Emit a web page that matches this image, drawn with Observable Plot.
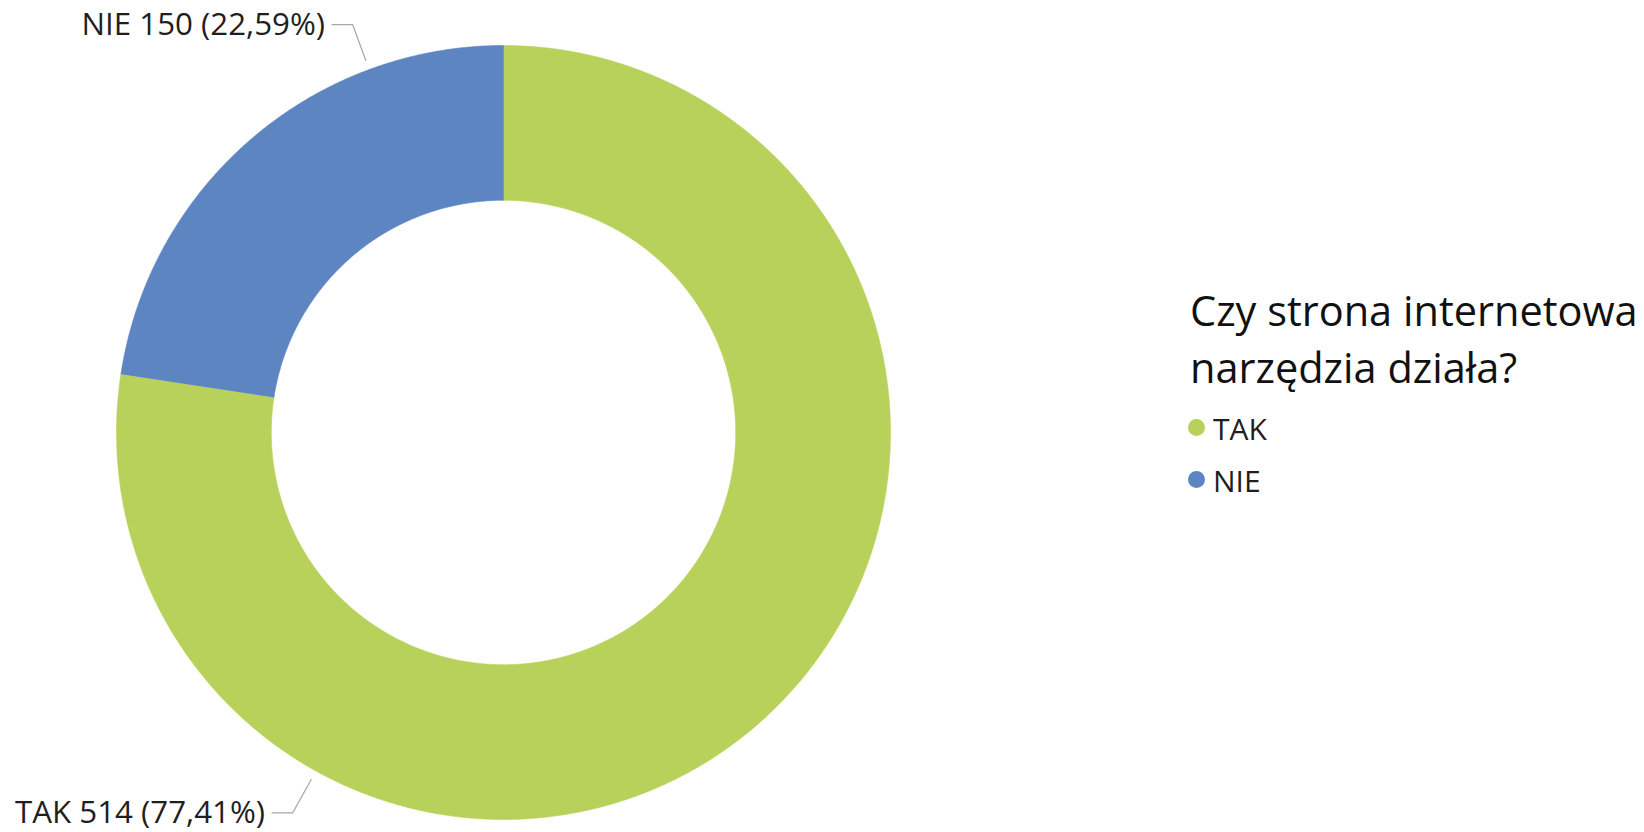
<!DOCTYPE html>
<html><head><meta charset="utf-8">
<script src="https://cdn.jsdelivr.net/npm/d3@7"></script>
<script src="https://cdn.jsdelivr.net/npm/@observablehq/plot@0.6"></script>
<style>
body{margin:0;background:#fff;font-family:"Open Sans",sans-serif;color:#1f1f1f;}
#wrap{position:relative;width:1644px;height:832px;overflow:hidden;}
#legend{position:absolute;left:1188px;top:282px;}
#legend .title{font-size:41.5px;line-height:57px;white-space:nowrap;padding-left:2px;color:#111;}
#legend .items{margin-top:7px;}
#legend .item{position:relative;height:52px;line-height:52px;font-size:30px;padding-left:25px;white-space:nowrap;}
#legend .dot{position:absolute;left:0;top:16px;width:17px;height:17px;border-radius:50%;}
</style></head><body><div id="wrap"></div>
<script>
// ---- data ----
const categories = ["TAK", "NIE"];
const counts = [514, 150];
const percentLabels = ["77,41%", "22,59%"];
const colors = ["#B8D15A", "#5C85C1"];
const legendTitleLines = ["Czy strona internetowa", "narzędzia działa?"];

// ---- layout constants (not data) ----
const innerRatio = 0.6;
const labelAngleDeg = {TAK: 209, NIE: -20.3};

const pie = d3.pie().sort(null).value(d => d)(counts);
const slices = [];
pie.forEach((p, i) => {
  const cat = categories[i];
  const n = Math.max(8, Math.ceil((p.endAngle - p.startAngle) / 0.005));
  for (let k = 0; k <= n; k++) {
    const a = p.startAngle + (p.endAngle - p.startAngle) * k / n;
    slices.push({cat, x: Math.sin(a), y: Math.cos(a)});
  }
  for (let k = n; k >= 0; k--) {
    const a = p.startAngle + (p.endAngle - p.startAngle) * k / n;
    slices.push({cat, x: innerRatio * Math.sin(a), y: innerRatio * Math.cos(a)});
  }
});

const leaders = [];
const labels = [];
categories.forEach((cat, i) => {
  const a = labelAngleDeg[cat] * Math.PI / 180;
  const p0 = {x: 1.025 * Math.sin(a), y: 1.025 * Math.cos(a)};
  const p1 = {x: 1.124 * Math.sin(a), y: 1.124 * Math.cos(a)};
  const p2 = {x: p1.x - 0.053, y: p1.y};
  leaders.push({cat, ...p0}, {cat, ...p1}, {cat, ...p2});
  labels.push({cat, x: p2.x, y: p2.y, text: `${cat} ${counts[i]} (${percentLabels[i]})`});
});

const W = 1644, H = 832;
const cx = 503, cy = 432, R = 387;
const chart = Plot.plot({
  width: W, height: H,
  marginLeft: cx - R, marginRight: W - (cx + R),
  marginTop: cy - R, marginBottom: H - (cy + R),
  x: {domain: [-1, 1], axis: null},
  y: {domain: [-1, 1], axis: null},
  color: {domain: categories, range: colors},
  style: {fontFamily: "Open Sans, sans-serif", background: "#fff", overflow: "visible"},
  marks: [
    Plot.line(slices, {x: "x", y: "y", z: "cat", fill: "cat", stroke: "cat", strokeWidth: 0.6, curve: "linear"}),
    Plot.line(leaders, {x: "x", y: "y", z: "cat", stroke: "#a6a6a6", strokeWidth: 1.2}),
    Plot.text(labels, {x: "x", y: "y", text: "text", textAnchor: "end", dx: -7, fontSize: 31.3, fill: "#1f1f1f"})
  ]
});
const wrap = document.getElementById("wrap");
wrap.appendChild(chart);

const legend = document.createElement("div");
legend.id = "legend";
legendTitleLines.forEach(t => {
  const d = document.createElement("div");
  d.className = "title"; d.textContent = t; legend.appendChild(d);
});
const items = document.createElement("div");
items.className = "items";
categories.forEach((c, i) => {
  const it = document.createElement("div");
  it.className = "item";
  const dot = document.createElement("span");
  dot.className = "dot"; dot.style.background = colors[i];
  it.appendChild(dot);
  it.appendChild(document.createTextNode(c));
  items.appendChild(it);
});
legend.appendChild(items);
wrap.appendChild(legend);
</script>
</body></html>
